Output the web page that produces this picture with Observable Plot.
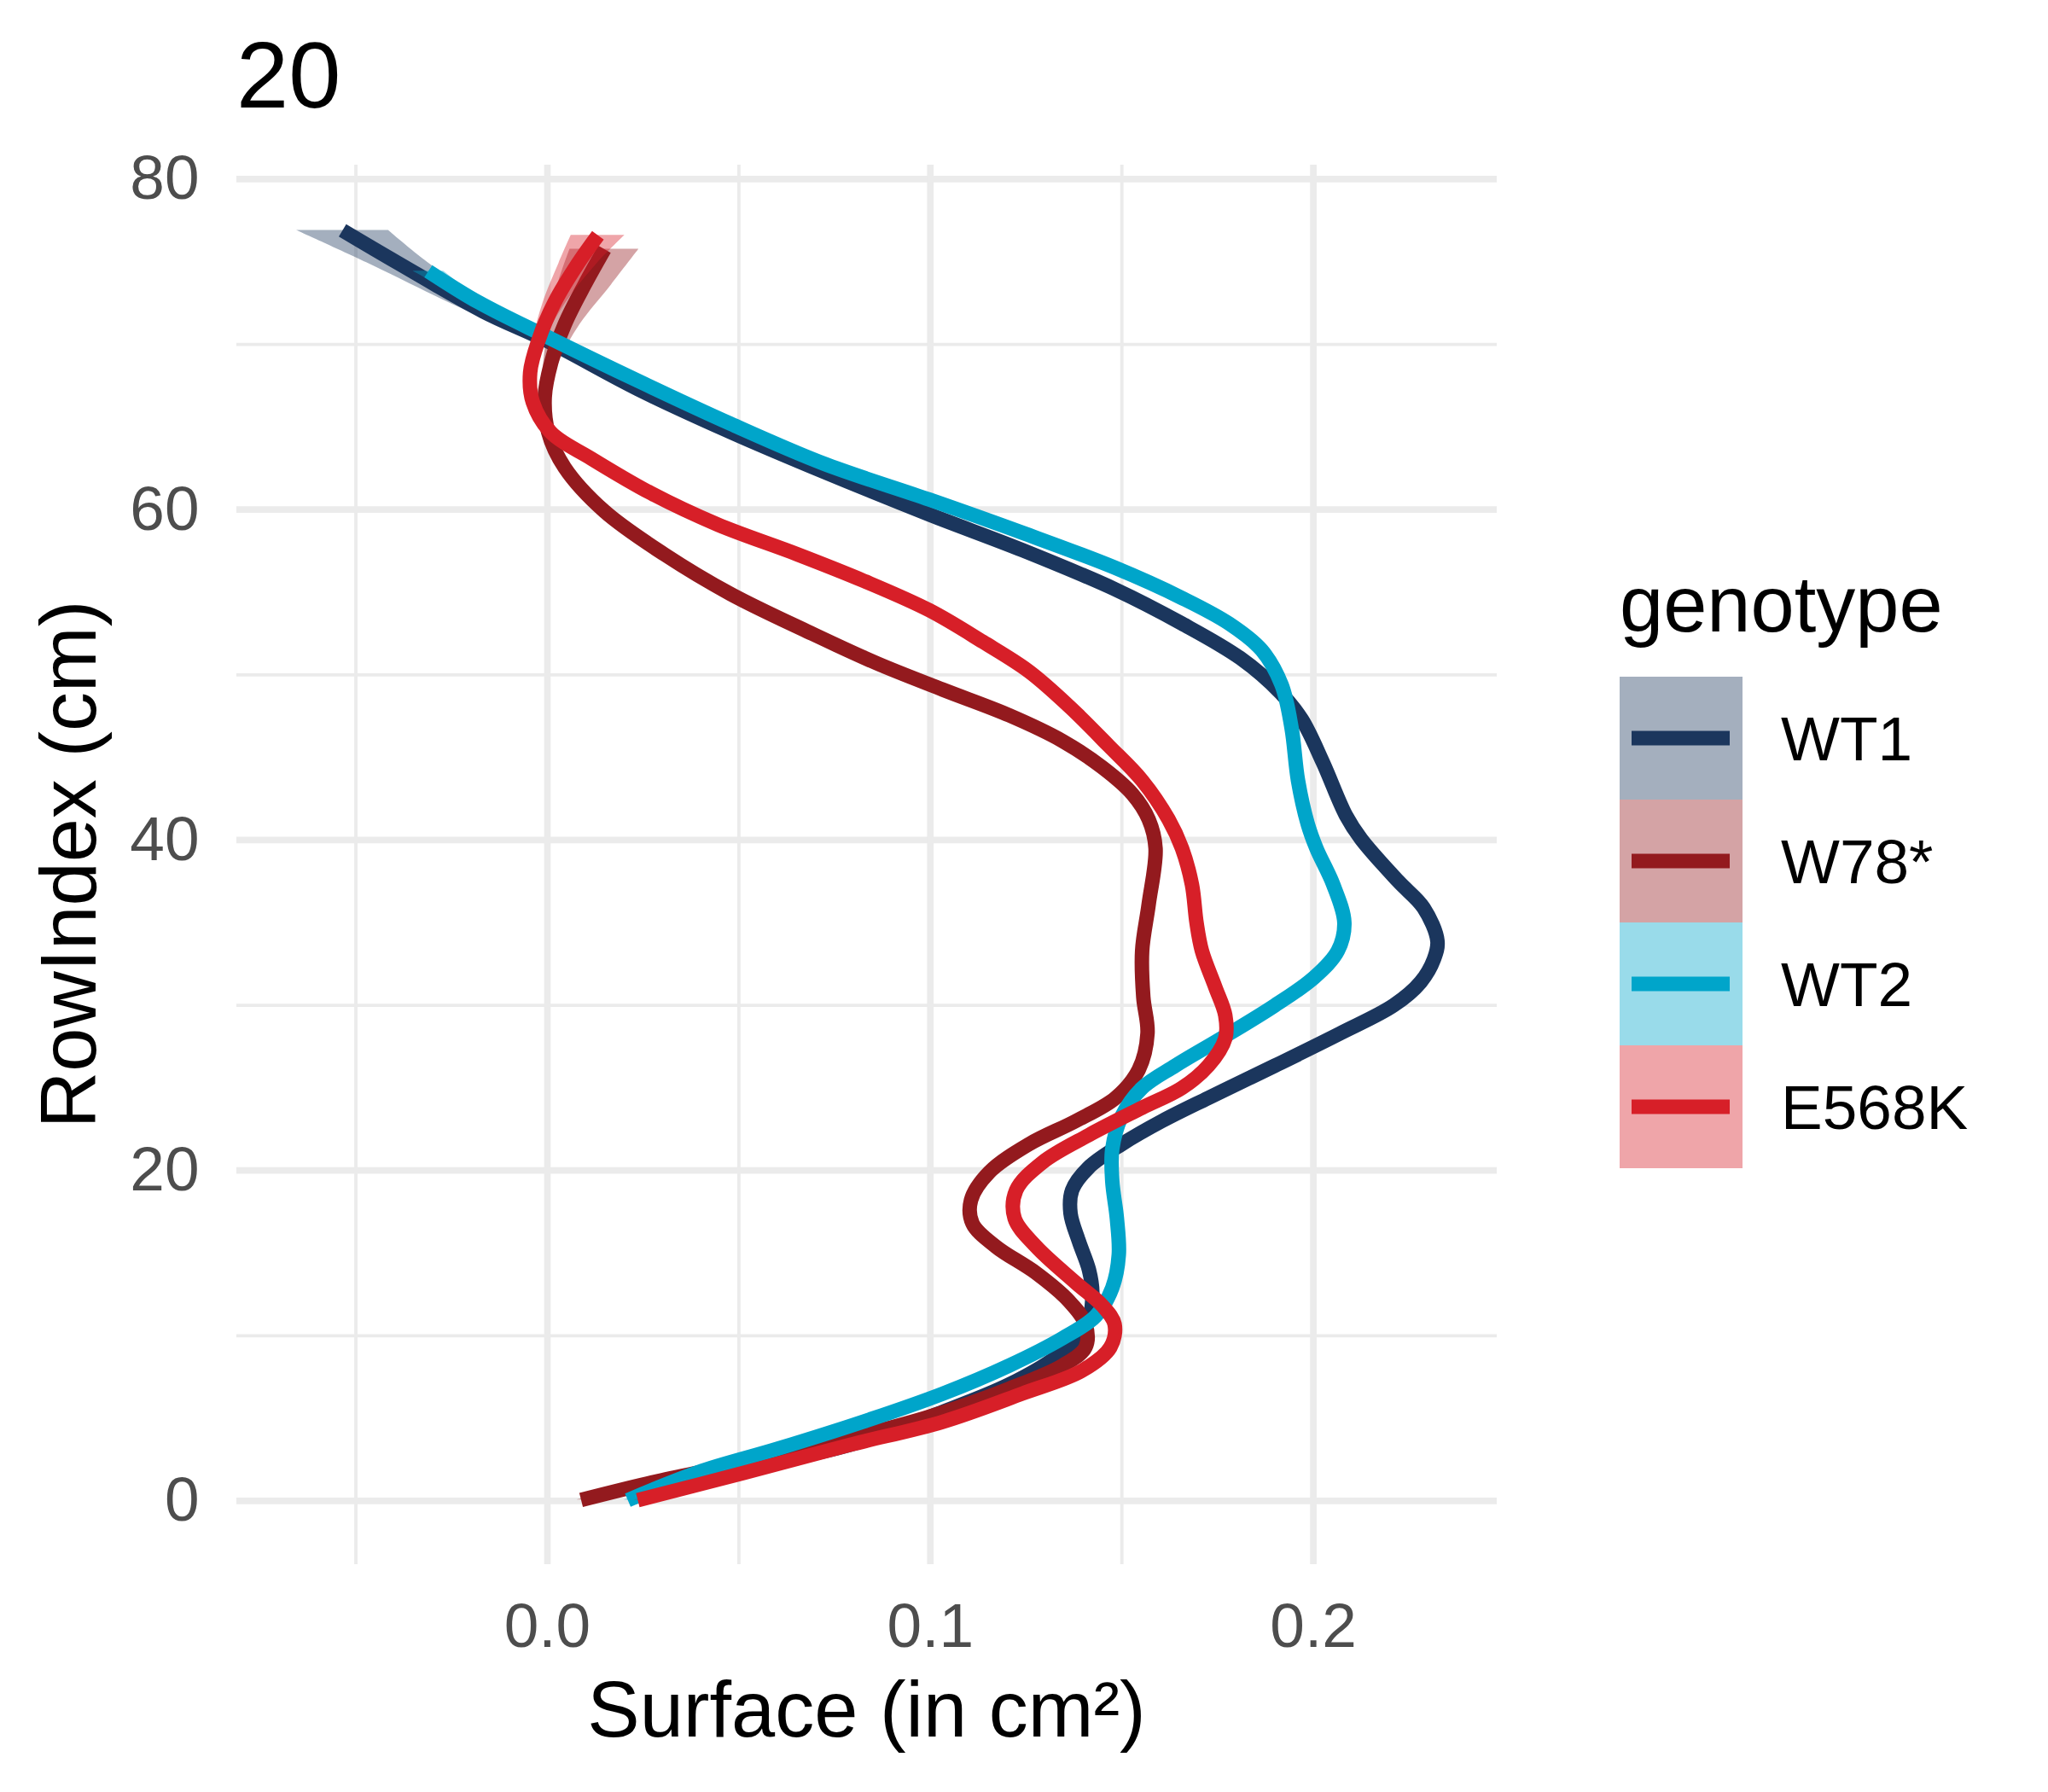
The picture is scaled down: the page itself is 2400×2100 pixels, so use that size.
<!DOCTYPE html>
<html>
<head>
<meta charset="utf-8">
<script src="https://cdn.jsdelivr.net/npm/d3@7"></script>
<script src="https://cdn.jsdelivr.net/npm/@observablehq/plot@0.6"></script>
<style>
  body { margin: 0; background: #ffffff; }
  #chart { position: relative; width: 2400px; height: 2100px; background: #ffffff; }
  #chart svg { position: absolute; left: 0; top: 0; }
</style>
</head>
<body>
<div id="chart"></div>
<script>
// ---------------- data ----------------
const plotTitle = "20";
const xTitle = "Surface (in cm²)";
const yTitle = "RowIndex (cm)";
const legendTitle = "genotype";
const genotypes = ["WT1", "W78*", "WT2", "E568K"];
const colors = ["#1B365D", "#931A1E", "#00A5CA", "#D71F28"];

const xTicks = [0, 0.1, 0.2];
const xTickLabels = ["0.0", "0.1", "0.2"];
const xMinorTicks = [-0.05, 0.05, 0.15];
const yTicks = [0, 20, 40, 60, 80];
const yTickLabels = ["0", "20", "40", "60", "80"];
const yMinorTicks = [10, 30, 50, 70];

// WT1
const wt1Y = [0.2, 1.9, 3.4, 5.4, 7.05, 8.7, 9.85, 11.0, 12.6, 14.0,
  15.7, 17.4, 18.8, 20.2, 21.6, 23.0, 24.4, 26.35, 28.3, 30.0,
  31.4, 32.8, 33.9, 35.9, 37.5, 40.06, 41.5, 44.7, 47.3, 48.9,
  51.0, 53.1, 55.2, 57.55, 59.7, 62.3, 64.7, 67.3, 70.2, 72.0,
  74.95, 76.9];
const wt1X = [0.022, 0.05, 0.079, 0.1033, 0.1206, 0.1328, 0.138, 0.1414, 0.1423, 0.1414,
  0.1388, 0.1366, 0.137, 0.1414, 0.150, 0.1605, 0.1726, 0.19, 0.207, 0.221,
  0.228, 0.2315, 0.2324, 0.2288, 0.2222, 0.2125, 0.2085, 0.2025, 0.197, 0.1915,
  0.181, 0.1657, 0.148, 0.124, 0.0998, 0.0721, 0.0478, 0.0236, 0, -0.0168,
  -0.0392, -0.0535];
const wt1Band = [0.001, 0.001, 0.001, 0.001, 0.001, 0.001, 0.001, 0.001, 0.001, 0.001,
  0.001, 0.001, 0.001, 0.001, 0.001, 0.001, 0.001, 0.001, 0.001, 0.001,
  0.001, 0.001, 0.001, 0.001, 0.001, 0.001, 0.001, 0.001, 0.001, 0.001,
  0.001, 0.001, 0.001, 0.001, 0.001, 0.001, 0.001, 0.001, 0.0015, 0.004,
  0.008, 0.012];

// W78*
const w78Y = [0.06, 1.2, 2.3, 3.7, 5.1, 6.8, 8.2, 9.3, 10.7, 12.1,
  13.8, 15.4, 16.8, 18.2, 19.9, 21.6, 23.0, 24.4, 26.1, 28.3,
  30.5, 33.3, 36.1, 39.5, 41.25, 42.8, 44.4, 46.0, 47.55, 49.1,
  50.7, 52.55, 54.9, 57.3, 59.9, 62.55, 64.7, 66.8, 68.9, 71.2,
  73.6, 75.76];
const w78X = [0.0088, 0.0288, 0.0513, 0.0773, 0.0998, 0.1206, 0.1345, 0.1405, 0.1405, 0.1362,
  0.1276, 0.1171, 0.111, 0.1106, 0.1154, 0.1258, 0.138, 0.1484, 0.1544, 0.1567,
  0.1556, 0.1553, 0.157, 0.1588, 0.157, 0.1527, 0.1449, 0.1345, 0.1206, 0.1033,
  0.086, 0.0686, 0.0478, 0.0305, 0.0149, 0.0045, 0.0002, -0.0007, 0.001, 0.0045,
  0.0097, 0.0149];
const w78Band = [0.001, 0.001, 0.001, 0.001, 0.001, 0.001, 0.001, 0.001, 0.001, 0.001,
  0.001, 0.001, 0.001, 0.001, 0.001, 0.001, 0.001, 0.001, 0.001, 0.001,
  0.001, 0.001, 0.001, 0.001, 0.001, 0.001, 0.001, 0.001, 0.001, 0.001,
  0.001, 0.001, 0.001, 0.001, 0.001, 0.001, 0.001, 0.001, 0.002, 0.004,
  0.007, 0.009];

// WT2
const wt2Y = [0.05, 1.73, 3.15, 4.8, 6.5, 8.2, 9.85, 11.2, 12.9, 14.9,
  17.1, 19.35, 21.3, 23.3, 25.0, 26.35, 28.0, 30.0, 31.7, 33.3,
  35.0, 37.3, 39.5, 41.0, 43.6, 46.8, 49.4, 51.5, 53.1, 54.65,
  56.5, 58.6, 60.6, 62.8, 65.2, 67.8, 70.45, 72.55, 74.43];
const wt2X = [0.021, 0.0392, 0.06, 0.0825, 0.1033, 0.1206, 0.1345, 0.1432, 0.1475, 0.1492,
  0.1487, 0.1475, 0.1475, 0.150, 0.1553, 0.164, 0.176, 0.19, 0.2003, 0.2064,
  0.2081, 0.2052, 0.2008, 0.1985, 0.196, 0.1943, 0.1917, 0.1865, 0.178, 0.1657,
  0.148, 0.124, 0.0998, 0.072, 0.0478, 0.0236, 0, -0.018, -0.0311];
const wt2Band = [0.001, 0.001, 0.001, 0.001, 0.001, 0.001, 0.001, 0.001, 0.001, 0.001,
  0.001, 0.001, 0.001, 0.001, 0.001, 0.001, 0.001, 0.001, 0.001, 0.001,
  0.001, 0.001, 0.001, 0.001, 0.001, 0.001, 0.001, 0.001, 0.001, 0.001,
  0.001, 0.001, 0.001, 0.001, 0.001, 0.001, 0.001, 0.002, 0.004];

// E568K
const e568kY = [0.05, 1.7, 3.4, 4.8, 6.5, 7.9, 9.3, 10.7, 11.8, 13.2,
  15.4, 17.1, 18.8, 20.5, 22.15, 23.8, 25.0, 26.35, 28.0, 29.4,
  31.1, 33.3, 35.0, 37.3, 39.5, 41.25, 43.6, 45.7, 48.1, 50.2,
  52.0, 53.9, 55.7, 57.3, 59.1, 61.0, 63.1, 64.65, 66.5, 68.3,
  70.2, 72.55, 74.9, 76.6];
const e568kX = [0.0236, 0.0513, 0.079, 0.1033, 0.124, 0.1397, 0.147, 0.1481, 0.145, 0.138,
  0.1276, 0.122, 0.1224, 0.1293, 0.1414, 0.1553, 0.1657, 0.1726, 0.177, 0.177,
  0.1744, 0.1709, 0.1695, 0.1683, 0.1657, 0.1622, 0.1553, 0.1466, 0.1362, 0.1258,
  0.1137, 0.0998, 0.0825, 0.0652, 0.0444, 0.027, 0.0114, 0.001, -0.0038, -0.0045,
  -0.0024, 0.0019, 0.008, 0.0132];
const e568kBand = [0.001, 0.001, 0.001, 0.001, 0.001, 0.001, 0.001, 0.001, 0.001, 0.001,
  0.001, 0.001, 0.001, 0.001, 0.001, 0.001, 0.001, 0.001, 0.001, 0.001,
  0.001, 0.001, 0.001, 0.001, 0.001, 0.001, 0.001, 0.001, 0.001, 0.001,
  0.001, 0.001, 0.001, 0.001, 0.001, 0.001, 0.001, 0.001, 0.001, 0.001,
  0.0015, 0.003, 0.005, 0.007];

// ---------------- build table ----------------
const seriesY = [wt1Y, w78Y, wt2Y, e568kY];
const seriesX = [wt1X, w78X, wt2X, e568kX];
const seriesBand = [wt1Band, w78Band, wt2Band, e568kBand];

const rows = [];
genotypes.forEach((g, i) => {
  seriesY[i].forEach((y, j) => {
    const x = seriesX[i][j], b = seriesBand[i][j];
    rows.push({genotype: g, y, x, lo: x - b, hi: x + b});
  });
});

// ---------------- layout ----------------
const W = 2400, H = 2100;
const mLeft = 277, mRight = 646, mTop = 193, mBottom = 267;
const font = "'Liberation Sans', Arial, Helvetica, sans-serif";
const gridColor = "#EBEBEB";

const marks = [
  Plot.gridY(yMinorTicks, {stroke: gridColor, strokeOpacity: 1, strokeWidth: 3.9}),
  Plot.gridX(xMinorTicks, {stroke: gridColor, strokeOpacity: 1, strokeWidth: 3.9}),
  Plot.gridY(yTicks, {stroke: gridColor, strokeOpacity: 1, strokeWidth: 7.7}),
  Plot.gridX(xTicks, {stroke: gridColor, strokeOpacity: 1, strokeWidth: 7.7}),
  Plot.axisY(yTicks, {
    tickSize: 0, tickPadding: 44, fontSize: 73, fill: "#4D4D4D", label: null,
    tickFormat: d => yTickLabels[yTicks.indexOf(d)]
  }),
  Plot.axisX(xTicks, {
    tickSize: 0, tickPadding: 45, fontSize: 73, fill: "#4D4D4D", label: null,
    tickFormat: d => xTickLabels[xTicks.indexOf(d)]
  })
];

genotypes.forEach((g) => {
  const d = rows.filter(r => r.genotype === g);
  marks.push(Plot.areaX(d, {
    y: "y", x1: "lo", x2: "hi", fill: "genotype", fillOpacity: 0.4, curve: "catmull-rom"
  }));
  marks.push(Plot.line(d, {
    x: "x", y: "y", stroke: "genotype", strokeWidth: 17, curve: "catmull-rom",
    strokeLinecap: "butt", strokeLinejoin: "round"
  }));
});

const chart = Plot.plot({
  width: W,
  height: H,
  marginLeft: mLeft,
  marginRight: mRight,
  marginTop: mTop,
  marginBottom: mBottom,
  style: {fontFamily: font, fontSize: "73px", background: "#ffffff", overflow: "visible"},
  x: {domain: [-0.0811, 0.248], axis: null},
  y: {domain: [-3.85, 80.85], axis: null},
  color: {domain: genotypes, range: colors},
  marks
});

const container = document.getElementById("chart");
container.appendChild(chart);

// ---------------- titles & legend overlay ----------------
const overlay = d3.select(container).append("svg")
  .attr("width", W).attr("height", H)
  .style("font-family", font);

overlay.append("text")
  .attr("x", 277).attr("y", 126)
  .attr("font-size", 110).attr("fill", "#000000")
  .text(plotTitle);

overlay.append("text")
  .attr("x", (mLeft + (W - mRight)) / 2).attr("y", 2035)
  .attr("text-anchor", "middle")
  .attr("font-size", 92).attr("fill", "#000000")
  .text(xTitle);

overlay.append("text")
  .attr("transform", `translate(112, ${(mTop + (H - mBottom)) / 2}) rotate(-90)`)
  .attr("text-anchor", "middle")
  .attr("font-size", 92).attr("fill", "#000000")
  .text(yTitle);

// legend
const legX = 1898, legTop = 793, keySize = 144;
overlay.append("text")
  .attr("x", legX).attr("y", 740)
  .attr("font-size", 92).attr("fill", "#000000")
  .text(legendTitle);

genotypes.forEach((g, i) => {
  const top = legTop + i * keySize;
  const cy = top + keySize / 2;
  overlay.append("rect")
    .attr("x", legX).attr("y", top)
    .attr("width", keySize).attr("height", keySize)
    .attr("fill", colors[i]).attr("fill-opacity", 0.4);
  overlay.append("line")
    .attr("x1", legX + 14).attr("x2", legX + 129)
    .attr("y1", cy).attr("y2", cy)
    .attr("stroke", colors[i]).attr("stroke-width", 17);
  overlay.append("text")
    .attr("x", 2087).attr("y", cy + 26)
    .attr("font-size", 73).attr("fill", "#000000")
    .text(g);
});
</script>
</body>
</html>
